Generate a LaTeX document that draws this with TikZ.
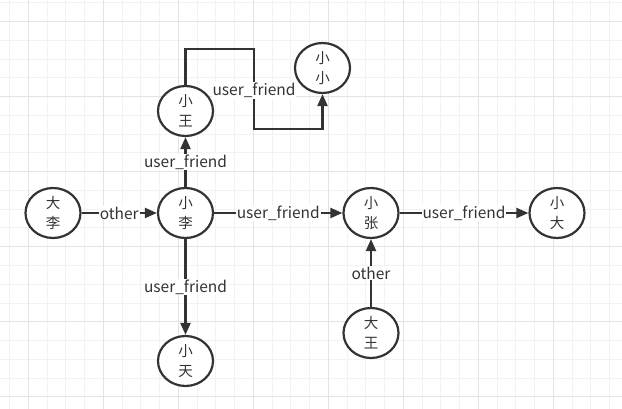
\documentclass[tikz,border=0pt]{standalone}
\usepackage{fontspec}
\newfontfamily\cjk{Noto Sans CJK SC}
\usetikzlibrary{shapes.geometric,arrows.meta}
\definecolor{ink}{HTML}{333333}
\definecolor{gridminor}{HTML}{F2F2F2}
\definecolor{gridmajor}{HTML}{E3E3E3}
\tikzset{
  person/.style={ellipse,draw=ink,line width=2.2pt,minimum width=55pt,minimum height=50pt,inner sep=0pt,
    align=center,text=ink,font=\cjk\fontsize{14.5}{20}\selectfont,fill=white},
  link/.style={draw=ink,line width=2.2pt,-{Triangle[length=12pt,width=10pt]}},
  lbl/.style={fill=white,inner sep=1pt,text=ink,font=\cjk\fontsize{15.5}{17}\selectfont}
}
\begin{document}
\begin{tikzpicture}[x=1pt,y=-1pt]
\useasboundingbox (0,0) rectangle (622,409);
\fill[white] (0,0) rectangle (622,409);
% grid
\foreach \i in {0,...,33} {
  \draw[gridminor,line width=0.8pt] ({9.5+18.75*\i},0) -- ({9.5+18.75*\i},409);
}
\foreach \i in {0,...,21} {
  \draw[gridminor,line width=0.8pt] (0,{2.9+18.75*\i}) -- (622,{2.9+18.75*\i});
}
\foreach \i in {0,...,8} {
  \draw[gridmajor,line width=0.8pt] ({28.3+75*\i},0) -- ({28.3+75*\i},409);
}
\foreach \i in {0,...,5} {
  \draw[gridmajor,line width=0.8pt] (0,{21.7+75*\i}) -- (622,{21.7+75*\i});
}
% nodes
\node[person] (xw) at (185.5,111) {小\\王};
\node[person] (xx) at (322.5,68) {小\\小};
\node[person] (dl) at (53,213) {大\\李};
\node[person] (xl) at (185.5,213) {小\\李};
\node[person] (xz) at (371,213) {小\\张};
\node[person] (xd) at (557,213) {小\\大};
\node[person] (dw) at (371,333) {大\\王};
\node[person] (xt) at (185.5,361) {小\\天};
\coordinate (c2) at (254,49);
\coordinate (c3) at (254,129);
% edges
\draw[link] (dl) -- node[lbl]{other} (xl);
\draw[link] (xl) -- node[lbl]{user\_friend} (xz);
\draw[link] (xz) -- node[lbl]{user\_friend} (xd);
\draw[link] (xl) -- node[lbl]{user\_friend} (xw);
\draw[link] (xl) -- node[lbl]{user\_friend} (xt);
\draw[link] (dw) -- node[lbl]{other} (xz);
\draw[link] (xw.north) |- (c2) -- node[lbl,pos=0.52]{user\_friend} (c3) -| (xx.south);
\end{tikzpicture}
\end{document}
